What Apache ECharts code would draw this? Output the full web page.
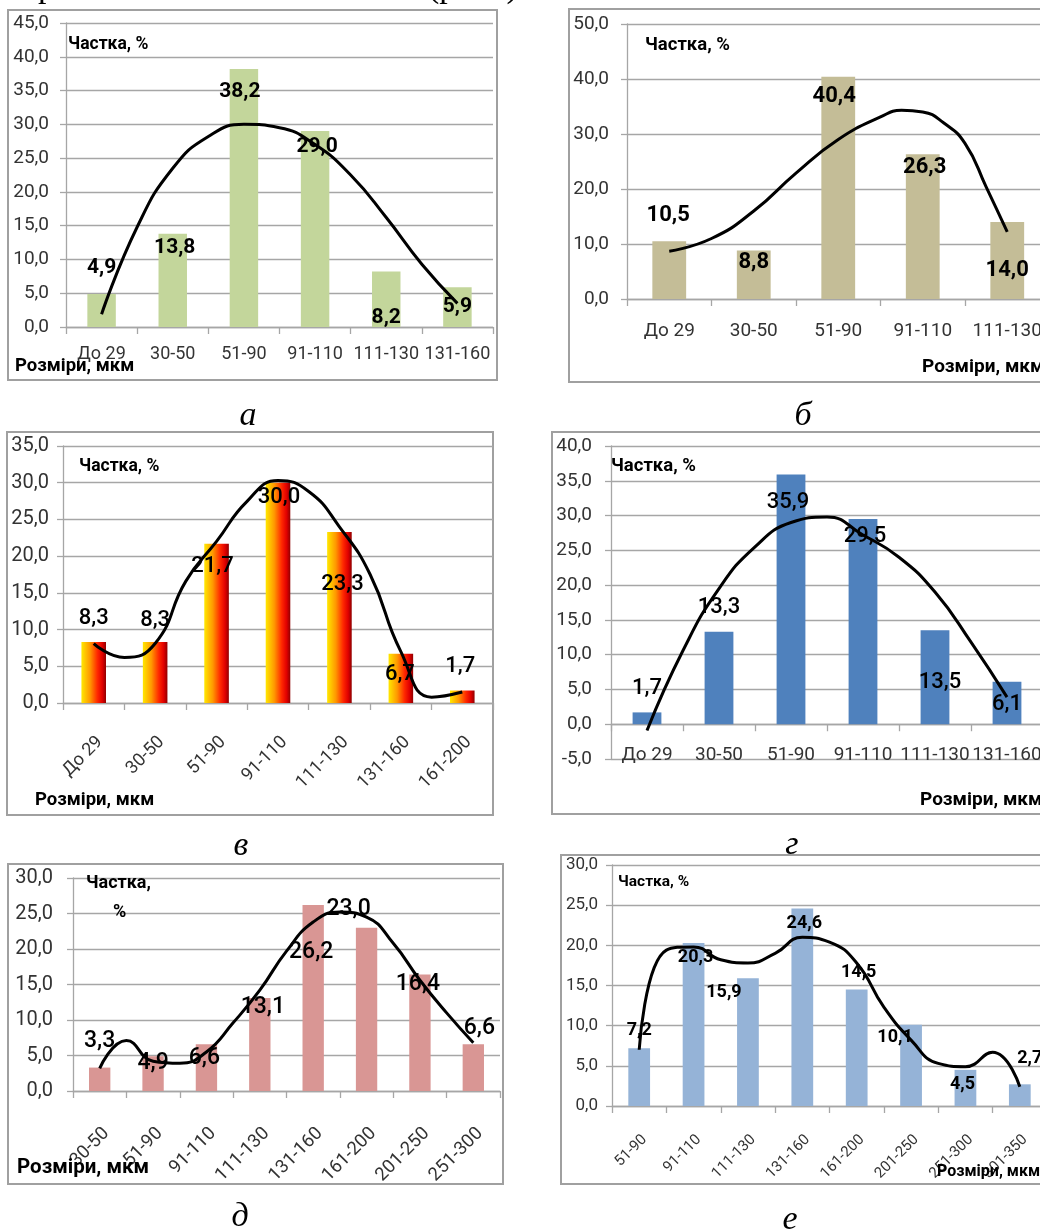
<!DOCTYPE html>
<html><head><meta charset="utf-8">
<script src="https://cdn.jsdelivr.net/npm/echarts@6/dist/echarts.min.js"></script>
<style>html,body{margin:0;padding:0;width:1040px;height:1231px;overflow:hidden;background:#fff}#c{width:1100px;height:1231px}</style>
</head><body><div id="c"></div>
<script>
// ---- data ----
const catsA = ['До 29','30-50','51-90','91-110','111-130','131-160'];
const valsA = [4.9, 13.8, 38.2, 29.0, 8.2, 5.9];
const trendA = [[0,1.9],[0.5,14.8],[1,23.5],[1.5,28.2],[2,30],[2.5,29.5],[3,27],[3.5,22.5],[4,16.2],[4.5,9.3],[5,3.5]];

const catsB = ['До 29','30-50','51-90','91-110','111-130'];
const valsB = [10.5, 8.8, 40.4, 26.3, 14.0];
const trendB = [[0,8.7],[0.5,11],[1,16],[1.5,22.9],[2,29],[2.5,33.1],[2.75,34.3],[3,34],[3.25,32],[3.5,28.3],[3.75,20.4],[4,12.2]];

const catsV = ['До 29','30-50','51-90','91-110','111-130','131-160','161-200'];
const valsV = [8.3, 8.3, 21.7, 30.0, 23.3, 6.7, 1.7];
const trendV = [[0,8.1],[0.5,6.2],[1,8.1],[1.5,16.6],[2,22],[2.5,27.5],[3,30.3],[3.5,28.8],[4,24],[4.5,17.5],[5,7],[5.5,0.8],[6,1.5]];

const catsG = ['До 29','30-50','51-90','91-110','111-130','131-160'];
const valsG = [1.7, 13.3, 35.9, 29.5, 13.5, 6.1];
const trendG = [[0,-0.9],[0.5,10.6],[1,19.5],[1.5,25.5],[2,29],[2.5,29.8],[3,27.2],[3.5,24],[4,19],[4.5,11.8],[5,3.9]];

const catsD = ['30-50','51-90','91-110','111-130','131-160','161-200','201-250','251-300'];
const valsD = [3.3, 4.9, 6.6, 13.1, 26.2, 23.0, 16.4, 6.6];
const trendD = [[0,3.2],[0.5,7.1],[1,4.2],[1.5,3.9],[2,5.5],[2.5,9.6],[3,14.2],[3.5,19.7],[4,23.8],[4.5,25.2],[5,24.5],[5.5,20.8],[6,15.6],[6.5,11],[7,6.8]];

const catsE = ['51-90','91-110','111-130','131-160','161-200','201-250','251-300','301-350'];
const valsE = [7.2, 20.3, 15.9, 24.6, 14.5, 10.1, 4.5, 2.7];
const trendE = [[0,7],[0.5,19.4],[1,19.8],[1.5,18.2],[2,17.8],[2.5,19],[3,21],[3.5,20.4],[4,17.8],[4.5,12.3],[5,8.2],[5.5,5.3],[6,4.9],[6.5,6.7],[7,2.4]];

const yRangeA = [0, 45, 5], yRangeB = [0, 50, 10], yRangeV = [0, 35, 5];
const yRangeG = [-5, 40, 5], yRangeD = [0, 30, 5], yRangeE = [0, 30, 5];

const axisTitleY = 'Частка, %';
const axisTitleX = 'Розміри, мкм';
const captions = ['а', 'б', 'в', 'г', 'д', 'е'];

// ---- layout / style ----
const FONT = 'Roboto, "Open Sans", sans-serif';
const SERIF = '"Liberation Serif", "DejaVu Serif", serif';
const GRID_C = '#a6a6a6';
const fmt = v => v.toFixed(1).replace('.', ',');

const gradV = new echarts.graphic.LinearGradient(0, 0, 1, 0, [
  {offset: 0, color: '#ffe800'}, {offset: 0.35, color: '#ff9800'},
  {offset: 0.65, color: '#ff2800'}, {offset: 0.85, color: '#e00000'}, {offset: 1, color: '#900000'}
]);

const charts = [
  {cats: catsA, vals: valsA, trend: trendA, y: yRangeA, color: '#c3d69b',
   grid: [66, 23, 427, 304], box: [8, 10, 489, 370], yFont: 19, yMargin: 17, xFont: 18, xMargin: 18, rot: 0,
   labFont: 21, labWeight: 'bold',
   lab: [[0,-26],[2,14],[-4,23],[2,16],[0,46],[0,20]]},
  {cats: catsB, vals: valsB, trend: trendB, y: yRangeB, color: '#c4bd97',
   grid: [627, 24, 422.5, 275], box: [569, 9, 520, 373], yFont: 19, yMargin: 18, xFont: 19, xMargin: 23, rot: 0,
   labFont: 22, labWeight: 'bold',
   lab: [[-1,-26],[0,12],[-4,20],[2,13],[0,48]]},
  {cats: catsV, vals: valsV, trend: trendV, y: yRangeV, color: gradV,
   grid: [63, 446, 430, 257], box: [7, 432, 486, 383], yFont: 20, yMargin: 14, xFont: 18, xMargin: 30, rot: 45,
   labFont: 22, labWeight: 500,
   lab: [[0,-24],[0,-22],[-4,23],[1,15],[3,53],[-1,21],[-2,-24]]},
  {cats: catsG, vals: valsG, trend: trendG, y: yRangeG, color: '#4f81bd',
   grid: [611, 446, 432, 313], box: [552, 432, 540, 382], yFont: 19, yMargin: 19, xFont: 19, xMargin: -13, rot: 0,
   labFont: 22, labWeight: 500,
   lab: [[0,-24],[0,-24],[-3,28],[2,17],[5,52],[0,23]]},
  {cats: catsD, vals: valsD, trend: trendD, y: yRangeD, color: '#d99694',
   grid: [73, 878, 427, 213], box: [8, 864, 495, 320], yFont: 20, yMargin: 20, xFont: 18.5, xMargin: 33, rot: 45,
   labFont: 23, labWeight: 500,
   lab: [[0,-26],[0,7],[-2,14],[3,9],[-2,47],[-18,-18],[-2,10],[6,-16]]},
  {cats: catsE, vals: valsE, trend: trendE, y: yRangeE, color: '#95b3d7',
   grid: [612, 865, 435, 241], box: [561, 855, 530, 329], yFont: 17, yMargin: 14, xFont: 15, xMargin: 26, rot: 45,
   labFont: 18, labWeight: 'bold',
   lab: [[0,-18],[2,15],[-24,14],[2,15],[2,-17],[-16,13],[-3,15],[10,-26]]}
];

// axis-title texts: [x, y, size]
const titleY = [[68,45,17.5],[645,45,18.5],[79,467,17.5],[611,466,18.5],null,[618,882,15.5]];
const titleX = [[15,366,18.5],[922,367,19],[35,800,18.5],[920,800,19],[17,1168,20.5],[937,1172,16]];
const capPos = [[248,416],[803,416],[241,846],[792,845],[240,1217],[790,1220]];

const grid = [], xAxis = [], yAxis = [], series = [], graphic = [];
charts.forEach((c, i) => {
  grid.push({left: c.grid[0], top: c.grid[1], width: c.grid[2], height: c.grid[3], containLabel: false});
  const lab = {interval: 0, color: '#333', fontFamily: FONT, fontSize: c.xFont, margin: c.xMargin, rotate: c.rot};
  if (c.rot) { lab.verticalAlign = 'top'; lab.align = 'right'; }
  xAxis.push({type: 'category', gridIndex: i, data: c.cats, boundaryGap: true,
    axisLine: {show: true, onZero: true, lineStyle: {color: GRID_C, width: 1.3}},
    axisTick: {show: true, length: 7, interval: 0, lineStyle: {color: GRID_C, width: 1.3}},
    axisLabel: lab, splitLine: {show: false}});
  xAxis.push({type: 'value', gridIndex: i, min: -0.5, max: c.cats.length - 0.5, show: false,
    axisLine: {onZero: false}, splitLine: {show: false}});
  yAxis.push({type: 'value', gridIndex: i, min: c.y[0], max: c.y[1], interval: c.y[2],
    axisLine: {show: true, onZero: false, lineStyle: {color: GRID_C, width: 1.3}},
    axisTick: {show: true, length: 6, lineStyle: {color: GRID_C, width: 1.3}},
    axisLabel: {formatter: v => fmt(v), color: '#333', fontFamily: FONT, fontSize: c.yFont, margin: c.yMargin},
    splitLine: {show: true, lineStyle: {color: GRID_C, width: 1.3}}});
  series.push({type: 'bar', xAxisIndex: 2 * i, yAxisIndex: i, barWidth: '40%',
    data: c.vals.map((v, k) => ({value: v, label: {offset: c.lab[k]}})),
    itemStyle: {color: c.color},
    label: {show: true, position: 'top', distance: 0, align: 'center', verticalAlign: 'middle',
      formatter: p => fmt(p.value), fontFamily: FONT, fontSize: c.labFont, fontWeight: c.labWeight, color: '#000'},
    z: 2, animation: false});
  series.push({type: 'line', xAxisIndex: 2 * i + 1, yAxisIndex: i, data: c.trend, smooth: 0.5,
    symbol: 'none', showSymbol: false, lineStyle: {color: '#000', width: 3}, z: 4, silent: true, animation: false});

  graphic.push({type: 'rect', z: -10, shape: {x: c.box[0], y: c.box[1], width: c.box[2], height: c.box[3]},
    style: {fill: '#fff', stroke: '#a0a0a0', lineWidth: 2}});
  if (titleY[i]) graphic.push({type: 'text', z: 10, x: titleY[i][0], y: titleY[i][1],
    style: {text: axisTitleY, fontFamily: FONT, fontWeight: 'bold', fontSize: titleY[i][2], fill: '#000', align: 'left', verticalAlign: 'middle'}});
  graphic.push({type: 'text', z: 10, x: titleX[i][0], y: titleX[i][1],
    style: {text: axisTitleX, fontFamily: FONT, fontWeight: 'bold', fontSize: titleX[i][2], fill: '#000', align: 'left', verticalAlign: 'middle'}});
  graphic.push({type: 'text', z: -20, x: capPos[i][0], y: capPos[i][1],
    style: {text: captions[i], fontFamily: SERIF, fontStyle: 'italic', fontSize: 34, fill: '#000', align: 'center', verticalAlign: 'middle'}});
});
// split title in chart д
graphic.push({type: 'text', z: 10, x: 86, y: 883,
  style: {text: 'Частка,', fontFamily: FONT, fontWeight: 'bold', fontSize: 18, fill: '#000', align: 'left', verticalAlign: 'middle'}});
graphic.push({type: 'text', z: 10, x: 113, y: 912,
  style: {text: '%', fontFamily: FONT, fontWeight: 'bold', fontSize: 18, fill: '#000', align: 'left', verticalAlign: 'middle'}});
// clipped line of body text above the figure
graphic.push({type: 'text', z: -20, x: 38, y: -12,
  style: {text: 'р', fontFamily: SERIF, fontSize: 34, fill: '#000', align: 'left', verticalAlign: 'middle'}});
graphic.push({type: 'text', z: -20, x: 428, y: -12,
  style: {text: '(рис. )', fontFamily: SERIF, fontSize: 34, fill: '#000', align: 'left', verticalAlign: 'middle'}});

const chart = echarts.init(document.getElementById('c'), null, {renderer: 'canvas'});
chart.setOption({backgroundColor: '#fff', animation: false, grid, xAxis, yAxis, series, graphic});
</script></body></html>
